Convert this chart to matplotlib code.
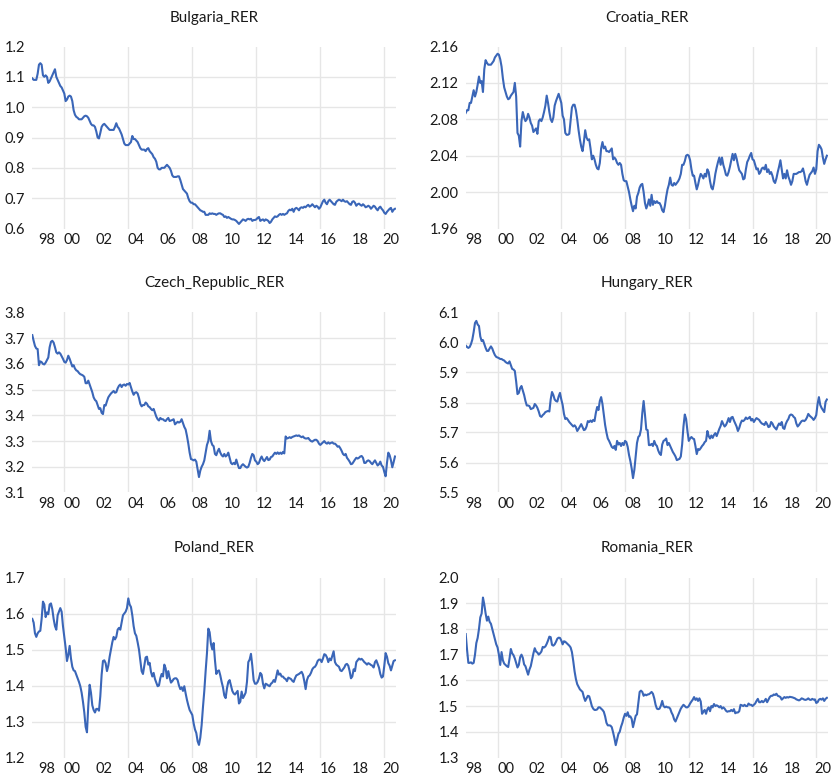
import numpy as np
import matplotlib
matplotlib.use("Agg")
import matplotlib.pyplot as plt

# ---------------- data (monthly, 1998M1 - 2020M9) ----------------
start_year = 1998

bulgaria = [
    1.095, 1.09, 1.09, 1.09, 1.11, 1.14, 1.145, 1.14, 1.105, 1.10, 1.105, 1.10,
    1.08, 1.085, 1.095, 1.105, 1.115, 1.125, 1.10, 1.09, 1.08, 1.07, 1.065, 1.055,
    1.045, 1.02, 1.025, 1.035, 1.038, 1.035, 1.02, 0.99, 0.975, 0.968, 0.965, 0.96,
    0.96, 0.96, 0.965, 0.97, 0.972, 0.97, 0.965, 0.955, 0.945, 0.94, 0.94, 0.935,
    0.92, 0.90, 0.897, 0.915, 0.935, 0.942, 0.945, 0.94, 0.935, 0.93, 0.925, 0.925,
    0.925, 0.925, 0.935, 0.947, 0.935, 0.93, 0.92, 0.91, 0.895, 0.88, 0.875, 0.875,
    0.875, 0.88, 0.885, 0.905, 0.895, 0.895, 0.89, 0.885, 0.875, 0.865, 0.86, 0.86,
    0.86, 0.855, 0.862, 0.865, 0.855, 0.85, 0.845, 0.835, 0.83, 0.82, 0.80, 0.795,
    0.795, 0.80, 0.80, 0.80, 0.805, 0.81, 0.805, 0.80, 0.79, 0.775, 0.77, 0.77,
    0.77, 0.772, 0.772, 0.76, 0.745, 0.73, 0.725, 0.72, 0.715, 0.70, 0.69, 0.685,
    0.685, 0.68, 0.68, 0.675, 0.67, 0.665, 0.66, 0.658, 0.655, 0.655, 0.645, 0.645,
    0.645, 0.65, 0.648, 0.65, 0.648, 0.648, 0.645, 0.648, 0.65, 0.65, 0.647, 0.645,
    0.638, 0.64, 0.635, 0.638, 0.635, 0.632, 0.63, 0.63, 0.628, 0.625, 0.62, 0.615,
    0.62, 0.625, 0.63, 0.628, 0.625, 0.63, 0.632, 0.63, 0.632, 0.625, 0.628, 0.628,
    0.63, 0.635, 0.638, 0.625, 0.628, 0.63, 0.625, 0.63, 0.628, 0.625, 0.618, 0.622,
    0.63, 0.635, 0.64, 0.638, 0.64, 0.645, 0.648, 0.645, 0.648, 0.645, 0.648, 0.65,
    0.658, 0.662, 0.66, 0.665, 0.655, 0.665, 0.668, 0.665, 0.66, 0.668, 0.67, 0.668,
    0.672, 0.67, 0.675, 0.678, 0.672, 0.675, 0.68, 0.675, 0.67, 0.675, 0.672, 0.665,
    0.67, 0.68, 0.69, 0.695, 0.685, 0.68, 0.69, 0.695, 0.69, 0.685, 0.68, 0.678,
    0.688, 0.692, 0.695, 0.693, 0.69, 0.695, 0.69, 0.688, 0.69, 0.685, 0.68, 0.678,
    0.688, 0.69, 0.685, 0.675, 0.68, 0.682, 0.678, 0.675, 0.68, 0.676, 0.67, 0.672,
    0.675, 0.672, 0.665, 0.67, 0.675, 0.672, 0.665, 0.66, 0.668, 0.672, 0.665, 0.66,
    0.652, 0.648, 0.655, 0.66, 0.665, 0.668, 0.655, 0.662, 0.665,
]

croatia = [
    2.087, 2.09, 2.09, 2.098, 2.098, 2.105, 2.112, 2.105, 2.11, 2.118, 2.127, 2.12,
    2.122, 2.11, 2.135, 2.145, 2.142, 2.14, 2.14, 2.14, 2.142, 2.144, 2.148, 2.15,
    2.152, 2.151, 2.146, 2.138, 2.125, 2.115, 2.11, 2.105, 2.102, 2.103, 2.106, 2.108,
    2.11, 2.12, 2.105, 2.065, 2.062, 2.05, 2.078, 2.088, 2.082, 2.078, 2.08, 2.086,
    2.082, 2.076, 2.073, 2.066, 2.068, 2.07, 2.064, 2.078, 2.08, 2.078, 2.082, 2.088,
    2.095, 2.106, 2.098, 2.088, 2.08, 2.077, 2.082, 2.095, 2.10, 2.104, 2.108, 2.103,
    2.098, 2.084, 2.08, 2.065, 2.063, 2.063, 2.064, 2.078, 2.093, 2.096, 2.096, 2.09,
    2.08, 2.068, 2.058, 2.05, 2.045, 2.055, 2.068, 2.06, 2.057, 2.058, 2.048, 2.036,
    2.04, 2.036, 2.03, 2.026, 2.025, 2.032, 2.048, 2.055, 2.048, 2.05, 2.045, 2.045,
    2.044, 2.046, 2.048, 2.036, 2.038, 2.036, 2.032, 2.03, 2.032, 2.03, 2.02, 2.013,
    2.012, 2.012, 2.006, 2.00, 1.992, 1.985, 1.979, 1.985, 1.982, 1.995, 1.999, 2.005,
    2.008, 2.009, 2.00, 1.988, 1.982, 1.986, 1.992, 1.985, 1.997, 1.986, 1.99, 1.988,
    1.99, 1.988, 1.988, 1.985, 1.98, 1.978, 1.985, 1.995, 2.003, 2.008, 2.016, 2.008,
    2.007, 2.01, 2.008, 2.01, 2.012, 2.015, 2.02, 2.03, 2.03, 2.034, 2.04, 2.041,
    2.04, 2.035, 2.025, 2.018, 2.018, 2.01, 2.003, 2.008, 2.015, 2.02, 2.018, 2.015,
    2.02, 2.017, 2.025, 2.022, 2.012, 2.005, 2.003, 2.01, 2.02, 2.027, 2.033, 2.038,
    2.03, 2.038, 2.03, 2.025, 2.019, 2.018, 2.022, 2.028, 2.035, 2.042, 2.035, 2.042,
    2.037, 2.03, 2.024, 2.022, 2.02, 2.014, 2.015, 2.025, 2.033, 2.036, 2.04, 2.043,
    2.036, 2.035, 2.03, 2.025, 2.026, 2.02, 2.022, 2.026, 2.027, 2.025, 2.03, 2.022,
    2.025, 2.02, 2.022, 2.018, 2.012, 2.01, 2.015, 2.022, 2.028, 2.035, 2.025, 2.015,
    2.02, 2.015, 2.024, 2.017, 2.013, 2.008, 2.012, 2.02, 2.02, 2.02, 2.021, 2.022,
    2.022, 2.023, 2.026, 2.02, 2.012, 2.008, 2.014, 2.019, 2.021, 2.023, 2.027, 2.02,
    2.025, 2.045, 2.052, 2.05, 2.047, 2.038, 2.031, 2.036, 2.04,
]

czech = [
    3.712, 3.69, 3.67, 3.66, 3.658, 3.595, 3.61, 3.607, 3.60, 3.598, 3.605, 3.615,
    3.625, 3.665, 3.686, 3.69, 3.683, 3.665, 3.645, 3.64, 3.645, 3.64, 3.63, 3.62,
    3.608, 3.605, 3.615, 3.632, 3.62, 3.605, 3.59, 3.595, 3.582, 3.575, 3.572, 3.565,
    3.56, 3.558, 3.555, 3.55, 3.525, 3.525, 3.535, 3.52, 3.505, 3.49, 3.47, 3.46,
    3.455, 3.44, 3.425, 3.428, 3.41, 3.405, 3.44, 3.438, 3.455, 3.47, 3.478, 3.485,
    3.49, 3.495, 3.488, 3.49, 3.505, 3.515, 3.52, 3.51, 3.518, 3.52, 3.515, 3.522,
    3.52, 3.526, 3.51, 3.493, 3.48, 3.488, 3.49, 3.485, 3.468, 3.445, 3.435, 3.44,
    3.44, 3.45, 3.445, 3.435, 3.432, 3.425, 3.42, 3.425, 3.41, 3.395, 3.385, 3.38,
    3.39, 3.385, 3.385, 3.38, 3.378, 3.385, 3.39, 3.378, 3.38, 3.382, 3.385, 3.365,
    3.37, 3.375, 3.372, 3.375, 3.385, 3.37, 3.355, 3.345, 3.32, 3.29, 3.255, 3.23,
    3.228, 3.225, 3.228, 3.22, 3.19, 3.16, 3.185, 3.20, 3.21, 3.225, 3.255, 3.285,
    3.30, 3.34, 3.30, 3.285, 3.28, 3.25, 3.245, 3.26, 3.27, 3.255, 3.245, 3.24,
    3.25, 3.24, 3.245, 3.255, 3.235, 3.215, 3.21, 3.215, 3.21, 3.228, 3.21, 3.195,
    3.195, 3.205, 3.21, 3.205, 3.20, 3.197, 3.20, 3.215, 3.235, 3.25, 3.245, 3.225,
    3.22, 3.21, 3.215, 3.23, 3.24, 3.228, 3.222, 3.23, 3.238, 3.226, 3.228, 3.238,
    3.24, 3.248, 3.255, 3.25, 3.256, 3.25, 3.255, 3.25, 3.258, 3.252, 3.318, 3.31,
    3.312, 3.315, 3.312, 3.316, 3.318, 3.32, 3.322, 3.32, 3.322, 3.318, 3.315, 3.318,
    3.312, 3.31, 3.31, 3.312, 3.305, 3.30, 3.298, 3.302, 3.305, 3.305, 3.30, 3.29,
    3.285, 3.29, 3.295, 3.30, 3.293, 3.29, 3.295, 3.29, 3.293, 3.295, 3.29, 3.29,
    3.285, 3.278, 3.28, 3.272, 3.262, 3.25, 3.245, 3.25, 3.235, 3.228, 3.22, 3.21,
    3.212, 3.22, 3.228, 3.235, 3.232, 3.235, 3.24, 3.242, 3.235, 3.215, 3.215, 3.222,
    3.225, 3.222, 3.215, 3.21, 3.218, 3.225, 3.215, 3.205, 3.21, 3.22, 3.205, 3.20,
    3.18, 3.163, 3.215, 3.255, 3.245, 3.225, 3.198, 3.218, 3.24,
]

hungary = [
    5.99, 5.985, 5.982, 5.985, 5.995, 6.01, 6.035, 6.065, 6.072, 6.06, 6.055, 6.02,
    6.005, 6.008, 5.995, 5.982, 5.972, 5.972, 5.98, 5.987, 5.98, 5.968, 5.958, 5.952,
    5.95, 5.948, 5.945, 5.945, 5.942, 5.94, 5.935, 5.932, 5.93, 5.937, 5.925, 5.912,
    5.91, 5.905, 5.87, 5.828, 5.832, 5.848, 5.855, 5.84, 5.825, 5.805, 5.79, 5.79,
    5.788, 5.778, 5.78, 5.782, 5.795, 5.79, 5.782, 5.77, 5.755, 5.752, 5.758, 5.762,
    5.768, 5.77, 5.772, 5.77, 5.81, 5.835, 5.825, 5.81, 5.805, 5.803, 5.82, 5.832,
    5.81, 5.792, 5.762, 5.745, 5.748, 5.742, 5.735, 5.73, 5.725, 5.72, 5.724, 5.718,
    5.705, 5.712, 5.72, 5.728, 5.718, 5.708, 5.71, 5.72, 5.738, 5.735, 5.74, 5.735,
    5.742, 5.738, 5.765, 5.785, 5.775, 5.805, 5.818, 5.795, 5.76, 5.725, 5.70, 5.68,
    5.672, 5.662, 5.652, 5.648, 5.655, 5.642, 5.672, 5.66, 5.665, 5.655, 5.665, 5.658,
    5.672, 5.668, 5.652, 5.625, 5.605, 5.58, 5.548, 5.575, 5.62, 5.665, 5.685, 5.69,
    5.71, 5.765, 5.805, 5.76, 5.71, 5.708, 5.658, 5.658, 5.662, 5.655, 5.672, 5.66,
    5.655, 5.64, 5.63, 5.625, 5.66, 5.672, 5.675, 5.68, 5.658, 5.665, 5.655, 5.645,
    5.635, 5.628, 5.62, 5.608, 5.61, 5.612, 5.62, 5.66, 5.72, 5.76, 5.745, 5.705,
    5.672, 5.68, 5.685, 5.68, 5.678, 5.655, 5.628, 5.645, 5.642, 5.648, 5.655, 5.66,
    5.668, 5.672, 5.705, 5.688, 5.68, 5.69, 5.682, 5.692, 5.698, 5.688, 5.70, 5.712,
    5.722, 5.738, 5.728, 5.72, 5.725, 5.735, 5.748, 5.735, 5.75, 5.752, 5.74, 5.73,
    5.72, 5.705, 5.715, 5.73, 5.74, 5.738, 5.742, 5.75, 5.745, 5.748, 5.752, 5.74,
    5.745, 5.735, 5.742, 5.748, 5.745, 5.742, 5.735, 5.73, 5.728, 5.725, 5.735, 5.728,
    5.718, 5.72, 5.735, 5.73, 5.72, 5.715, 5.71, 5.722, 5.73, 5.725, 5.735, 5.715,
    5.712, 5.728, 5.738, 5.745, 5.757, 5.76, 5.758, 5.752, 5.748, 5.73, 5.72, 5.725,
    5.732, 5.738, 5.74, 5.738, 5.742, 5.75, 5.762, 5.756, 5.752, 5.748, 5.742, 5.748,
    5.758, 5.795, 5.818, 5.792, 5.782, 5.775, 5.768, 5.802, 5.81,
]

poland = [
    1.585, 1.575, 1.545, 1.535, 1.545, 1.55, 1.552, 1.585, 1.633, 1.625, 1.59, 1.603,
    1.598, 1.625, 1.628, 1.612, 1.585, 1.565, 1.555, 1.595, 1.605, 1.615, 1.605, 1.565,
    1.535, 1.505, 1.468, 1.485, 1.51, 1.475, 1.452, 1.442, 1.44, 1.43, 1.42, 1.41,
    1.398, 1.38, 1.355, 1.325, 1.285, 1.27, 1.345, 1.402, 1.38, 1.345, 1.332, 1.325,
    1.335, 1.335, 1.33, 1.37, 1.43, 1.468, 1.47, 1.462, 1.44, 1.455, 1.48, 1.50,
    1.52, 1.535, 1.528, 1.535, 1.555, 1.56, 1.555, 1.575, 1.595, 1.60, 1.605, 1.615,
    1.642, 1.625, 1.618, 1.595, 1.565, 1.545, 1.538, 1.52, 1.50, 1.47, 1.44, 1.432,
    1.455, 1.478, 1.48, 1.458, 1.463, 1.438, 1.425, 1.435, 1.418, 1.408, 1.398, 1.40,
    1.42, 1.432, 1.425, 1.458, 1.448, 1.42, 1.44, 1.422, 1.408, 1.412, 1.418, 1.42,
    1.42, 1.415, 1.40, 1.39, 1.395, 1.385, 1.398, 1.378, 1.36, 1.345, 1.332, 1.325,
    1.318, 1.295, 1.278, 1.268, 1.245, 1.235, 1.255, 1.29, 1.34, 1.385, 1.44, 1.49,
    1.558, 1.548, 1.515, 1.50, 1.518, 1.47, 1.432, 1.44, 1.442, 1.428, 1.41, 1.395,
    1.372, 1.365, 1.392, 1.41, 1.415, 1.40, 1.385, 1.378, 1.375, 1.38, 1.385, 1.35,
    1.355, 1.383, 1.365, 1.372, 1.38, 1.41, 1.465, 1.472, 1.488, 1.455, 1.415, 1.405,
    1.405, 1.41, 1.42, 1.435, 1.43, 1.405, 1.392, 1.405, 1.403, 1.40, 1.398, 1.405,
    1.408, 1.415, 1.41, 1.425, 1.442, 1.43, 1.433, 1.425, 1.425, 1.42, 1.418, 1.412,
    1.422, 1.42, 1.418, 1.413, 1.41, 1.42, 1.428, 1.43, 1.432, 1.435, 1.438, 1.43,
    1.412, 1.39, 1.415, 1.425, 1.428, 1.435, 1.445, 1.45, 1.452, 1.458, 1.468, 1.472,
    1.472, 1.465, 1.475, 1.487, 1.485, 1.478, 1.465, 1.475, 1.47, 1.482, 1.495, 1.465,
    1.458, 1.455, 1.452, 1.442, 1.44, 1.445, 1.45, 1.458, 1.46, 1.455, 1.44, 1.42,
    1.425, 1.445, 1.44, 1.465, 1.47, 1.475, 1.472, 1.474, 1.47, 1.465, 1.462, 1.458,
    1.462, 1.46, 1.457, 1.455, 1.45, 1.465, 1.47, 1.46, 1.45, 1.432, 1.422, 1.425,
    1.455, 1.49, 1.48, 1.462, 1.455, 1.442, 1.455, 1.468, 1.47,
]

romania = [
    1.78, 1.72, 1.668, 1.668, 1.67, 1.665, 1.668, 1.70, 1.745, 1.765, 1.80, 1.845,
    1.86, 1.922, 1.895, 1.86, 1.832, 1.848, 1.828, 1.82, 1.80, 1.78, 1.76, 1.74,
    1.728, 1.70, 1.66, 1.71, 1.678, 1.665, 1.66, 1.655, 1.652, 1.685, 1.722, 1.705,
    1.698, 1.685, 1.668, 1.65, 1.66, 1.69, 1.70, 1.688, 1.662, 1.655, 1.638, 1.622,
    1.642, 1.655, 1.68, 1.705, 1.725, 1.712, 1.708, 1.70, 1.705, 1.712, 1.73, 1.728,
    1.732, 1.742, 1.755, 1.77, 1.768, 1.738, 1.735, 1.74, 1.75, 1.762, 1.766, 1.765,
    1.755, 1.74, 1.752, 1.75, 1.745, 1.74, 1.735, 1.728, 1.71, 1.675, 1.635, 1.605,
    1.585, 1.575, 1.565, 1.56, 1.555, 1.535, 1.52, 1.53, 1.54, 1.538, 1.52, 1.50,
    1.49, 1.485, 1.485, 1.487, 1.495, 1.495, 1.49, 1.485, 1.478, 1.46, 1.435, 1.425,
    1.425, 1.424, 1.418, 1.398, 1.375, 1.348, 1.37, 1.392, 1.40, 1.42, 1.435, 1.455,
    1.47, 1.462, 1.476, 1.458, 1.46, 1.45, 1.418, 1.44, 1.462, 1.468, 1.51, 1.555,
    1.56, 1.555, 1.54, 1.545, 1.542, 1.545, 1.546, 1.55, 1.555, 1.548, 1.53, 1.505,
    1.49, 1.488, 1.49, 1.502, 1.52, 1.50, 1.495, 1.498, 1.495, 1.495, 1.49, 1.475,
    1.465, 1.448, 1.44, 1.452, 1.465, 1.478, 1.49, 1.498, 1.505, 1.50, 1.495, 1.495,
    1.50, 1.51, 1.518, 1.525, 1.535, 1.524, 1.53, 1.52, 1.53, 1.518, 1.47, 1.478,
    1.485, 1.47, 1.488, 1.495, 1.48, 1.50, 1.495, 1.508, 1.50, 1.503, 1.50, 1.495,
    1.50, 1.49, 1.495, 1.49, 1.482, 1.478, 1.48, 1.48, 1.485, 1.48, 1.488, 1.472,
    1.475, 1.475, 1.48, 1.505, 1.503, 1.50, 1.505, 1.50, 1.50, 1.51, 1.505, 1.505,
    1.50, 1.505, 1.51, 1.52, 1.528, 1.515, 1.515, 1.52, 1.515, 1.52, 1.528, 1.515,
    1.525, 1.535, 1.54, 1.54, 1.545, 1.543, 1.548, 1.54, 1.538, 1.535, 1.525, 1.53,
    1.535, 1.532, 1.535, 1.533, 1.536, 1.535, 1.534, 1.532, 1.53, 1.526, 1.524, 1.522,
    1.525, 1.53, 1.528, 1.525, 1.524, 1.526, 1.53, 1.525, 1.524, 1.528, 1.525, 1.526,
    1.512, 1.515, 1.525, 1.528, 1.525, 1.53, 1.52, 1.528, 1.532,
]

titles = ["Bulgaria_RER", "Croatia_RER", "Czech_Republic_RER",
          "Hungary_RER", "Poland_RER", "Romania_RER"]
series = [bulgaria, croatia, czech, hungary, poland, romania]
y_ticks = [
    [0.6, 0.7, 0.8, 0.9, 1.0, 1.1, 1.2],
    [1.96, 2.00, 2.04, 2.08, 2.12, 2.16],
    [3.1, 3.2, 3.3, 3.4, 3.5, 3.6, 3.7, 3.8],
    [5.5, 5.6, 5.7, 5.8, 5.9, 6.0, 6.1],
    [1.2, 1.3, 1.4, 1.5, 1.6, 1.7],
    [1.3, 1.4, 1.5, 1.6, 1.7, 1.8, 1.9, 2.0],
]
y_fmt = ["{:.1f}", "{:.2f}", "{:.1f}", "{:.1f}", "{:.1f}", "{:.1f}"]
label_years = list(range(1998, 2021, 2))
label_texts = ["98", "00", "02", "04", "06", "08", "10", "12", "14", "16", "18", "20"]
grid_years = [2000, 2004, 2008, 2012, 2016, 2020]

# ---------------- layout ----------------
W, H = 833, 779
plt.rcParams["font.family"] = ["Lato", "DejaVu Sans"]
fig = plt.figure(figsize=(W / 100, H / 100), dpi=100)

col_left = [32.3, 465.7]
col_width = [364.0, 362.5]
row_top = [46.5, 312.5, 577.5]
row_bottom = [228.5, 492.5, 757.5]
title_y = [18, 283, 548]
first_label_shift = [0.4, 0.0]

line_color = "#3a66b8"
grid_color = "#e6e6e6"
text_color = "#1a1a1a"
x_end = start_year + 22.75

for k, (name, vals) in enumerate(zip(titles, series)):
    r, c = divmod(k, 2)
    l = col_left[c] / W
    b = 1 - row_bottom[r] / H
    w = col_width[c] / W
    h = (row_bottom[r] - row_top[r]) / H
    ax = fig.add_axes([l, b, w, h])
    t = start_year + np.arange(len(vals)) / 12.0
    yt = y_ticks[k]
    ax.set_xlim(start_year, x_end)
    ax.set_ylim(yt[0], yt[-1])
    for gy in yt[1:-1]:
        ax.axhline(gy, color=grid_color, lw=1.0, zorder=0)
    for gx in grid_years:
        ax.axvline(gx, color=grid_color, lw=1.0, zorder=0)
    ax.plot(t, vals, color=line_color, lw=1.5, zorder=3, solid_joinstyle="round")
    for s in ax.spines.values():
        s.set_visible(False)
    ax.set_yticks(yt)
    ax.set_yticklabels([y_fmt[k].format(v) for v in yt])
    pos = [yr + 0.5 for yr in label_years]
    pos[0] += first_label_shift[c]
    pos[-1] = min(pos[-1], x_end - 0.35)
    ax.set_xticks(pos)
    ax.set_xticklabels(label_texts)
    ax.tick_params(axis="both", length=0, labelsize=10.5, colors=text_color)
    ax.tick_params(axis="y", pad=5)
    ax.tick_params(axis="x", pad=3)
    ax.patch.set_alpha(0)
    cx = (col_left[c] + col_width[c] / 2) / W
    fig.text(cx, 1 - title_y[r] / H, name, ha="center", va="center",
             fontsize=11, color=text_color)

fig.savefig("out.png", dpi=100, facecolor="white")
